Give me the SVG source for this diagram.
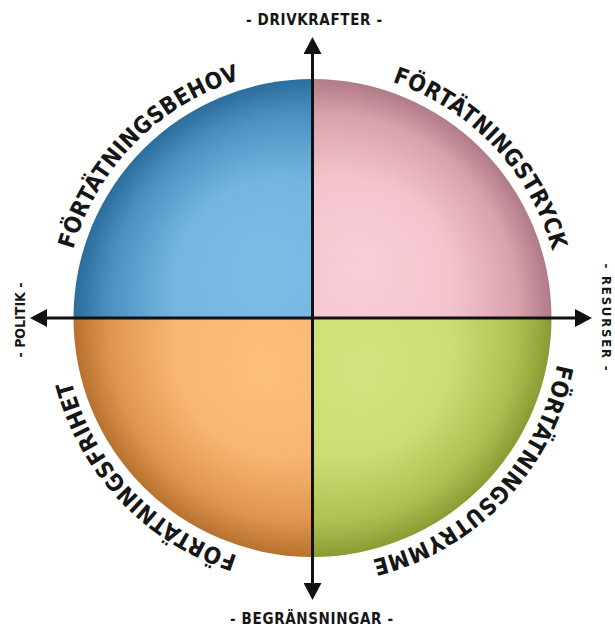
<svg xmlns="http://www.w3.org/2000/svg" xmlns:xlink="http://www.w3.org/1999/xlink" width="615" height="627" viewBox="0 0 615 627">
<style>
.lbl{font-family:"DejaVu Sans Condensed","DejaVu Sans","Liberation Sans",sans-serif;font-weight:bold;fill:#161616;}
.arc{font-size:23px;letter-spacing:0.4px;}
.axl{font-size:15px;text-anchor:middle;}
.ax{stroke:#111;stroke-width:3;fill:none;marker-start:url(#ah);marker-end:url(#ah);}
</style>
<defs>
<marker id="ah" viewBox="0 0 17 18" refX="7" refY="9" markerWidth="17" markerHeight="18" orient="auto-start-reverse" markerUnits="userSpaceOnUse">
<path d="M0,0 L17,9 L0,18 Z" fill="#111"/>
</marker>
<radialGradient id="gBlue" gradientUnits="userSpaceOnUse" cx="312.5" cy="318" r="240" fx="255" fy="262">
<stop offset="0" stop-color="#7cbde6"/><stop offset="0.45" stop-color="#74b6e0"/><stop offset="0.8" stop-color="#4a91c2"/><stop offset="1" stop-color="#2a6c9a"/>
</radialGradient>
<radialGradient id="gPink" gradientUnits="userSpaceOnUse" cx="312.5" cy="318" r="240" fx="370" fy="262">
<stop offset="0" stop-color="#f9ced6"/><stop offset="0.45" stop-color="#f4c4cd"/><stop offset="0.8" stop-color="#d9a2ad"/><stop offset="1" stop-color="#ae7a85"/>
</radialGradient>
<radialGradient id="gGreen" gradientUnits="userSpaceOnUse" cx="312.5" cy="318" r="240" fx="370" fy="374">
<stop offset="0" stop-color="#d3e47e"/><stop offset="0.45" stop-color="#cbdd74"/><stop offset="0.8" stop-color="#adc152"/><stop offset="1" stop-color="#889b33"/>
</radialGradient>
<radialGradient id="gOrange" gradientUnits="userSpaceOnUse" cx="312.5" cy="318" r="240" fx="255" fy="374">
<stop offset="0" stop-color="#fdbf7c"/><stop offset="0.45" stop-color="#f8b671"/><stop offset="0.8" stop-color="#e0954e"/><stop offset="1" stop-color="#b6702e"/>
</radialGradient>
<path id="ring" d="M561.5,318 A249,249 0 1 1 63.5,318 A249,249 0 1 1 561.5,318"/>
</defs>
<rect width="615" height="627" fill="#ffffff"/>

<g id="behov">
<path d="M312.5,318 L73.5,318 A239,239 0 0 1 312.5,79 Z" fill="url(#gBlue)"/>
<text class="lbl arc"><textPath xlink:href="#ring" href="#ring" startOffset="975.6" text-anchor="middle">FÖRTÄTNINGSBEHOV</textPath></text>
</g>
<g id="tryck">
<path d="M312.5,318 L312.5,79 A239,239 0 0 1 551.5,318 Z" fill="url(#gPink)"/>
<text class="lbl arc"><textPath xlink:href="#ring" href="#ring" startOffset="1375.5" text-anchor="middle">FÖRTÄTNINGSTRYCK</textPath></text>
</g>
<g id="utrymme">
<path d="M312.5,318 L551.5,318 A239,239 0 0 1 312.5,557 Z" fill="url(#gGreen)"/>
<text class="lbl arc"><textPath xlink:href="#ring" href="#ring" startOffset="189" text-anchor="middle">FÖRTÄTNINGSUTRYMME</textPath></text>
</g>
<g id="frihet">
<path d="M312.5,318 L312.5,557 A239,239 0 0 1 73.5,318 Z" fill="url(#gOrange)"/>
<text class="lbl arc"><textPath xlink:href="#ring" href="#ring" startOffset="593.2" text-anchor="middle">FÖRTÄTNINGSFRIHET</textPath></text>
</g>

<g id="connectors">
<line class="ax" x1="312.5" y1="590" x2="312.5" y2="47"/>
<line class="ax" x1="40" y1="318" x2="582" y2="318"/>
</g>

<g id="axis-labels">
<text id="drivkrafter" class="lbl axl" x="314" y="25" textLength="136" lengthAdjust="spacing">- DRIVKRAFTER -</text>
<text id="begransningar" class="lbl axl" x="311.5" y="624" textLength="163" lengthAdjust="spacing">- BEGRÄNSNINGAR -</text>
<text id="politik" class="lbl axl" transform="translate(25,320) rotate(-90)" x="0" y="0" textLength="75" lengthAdjust="spacing" style="font-size:14px">- POLITIK -</text>
<text id="resurser" class="lbl axl" transform="translate(602,317) rotate(90)" x="0" y="0" textLength="107" lengthAdjust="spacing" style="font-size:13px">- RESURSER -</text>
</g>
</svg>
